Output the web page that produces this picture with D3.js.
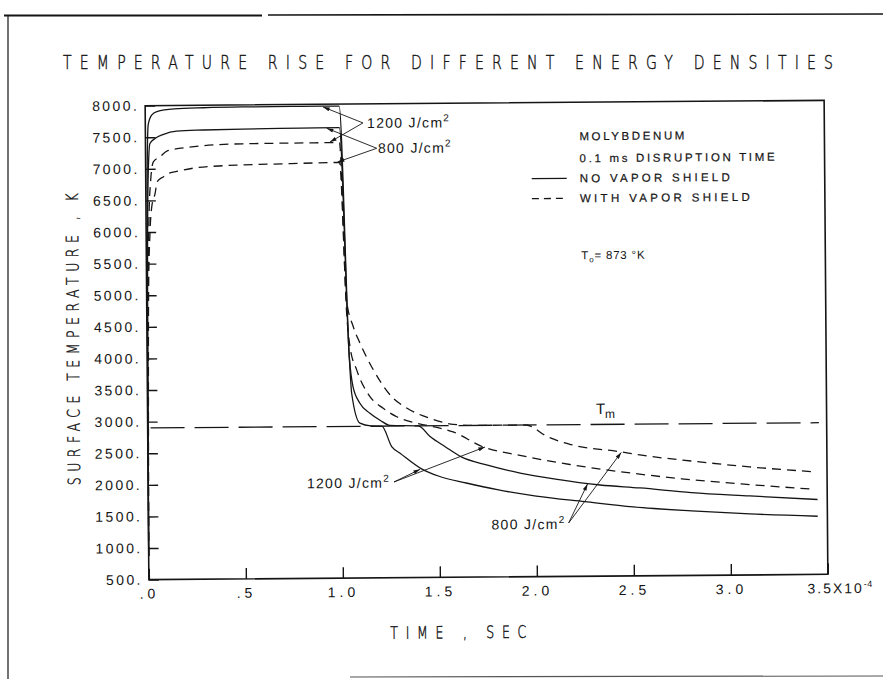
<!DOCTYPE html>
<html><head><meta charset="utf-8">
<script src="https://cdn.jsdelivr.net/npm/d3@7"></script>
<style>
html,body{margin:0;padding:0;background:#fff;}
svg{display:block;}
</style></head>
<body>
<svg id="chart" width="883" height="679"></svg>
<script>
// ---------------- DATA ----------------
const xTickValues = [0, 0.5, 1, 1.5, 2, 2.5, 3, 3.5];
const xTickLabels = [".0", ".5", "1.0", "1.5", "2.0", "2.5", "3.0", "3.5X10"];
const yTickValues = [500, 1000, 1500, 2000, 2500, 3000, 3500, 4000, 4500, 5000, 5500, 6000, 6500, 7000, 7500, 8000];
const meltTemp = 2900;   // T_m (K)

// 1200 J/cm2, no vapor shield
const t1200NoShield = [0, 0.004, 0.008, 0.015, 0.033, 0.06, 0.15, 0.3, 0.5, 0.8, 1.0, 1.042, 1.053, 1.094, 1.15, 1.207, 1.258, 1.3, 1.41, 1.5, 1.64, 1.8, 2.0, 2.25, 2.5, 2.8, 3.1, 3.45];
const T1200NoShield = [873, 5500, 7000, 7700, 7850, 7905, 7945, 7960, 7968, 7970, 7970, 4000, 3420, 2950, 2905, 2900, 2570, 2470, 2220, 2100, 1990, 1880, 1775, 1680, 1590, 1520, 1465, 1420];
// 800 J/cm2, no vapor shield
const t800NoShield = [0, 0.005, 0.012, 0.023, 0.05, 0.09, 0.16, 0.3, 0.5, 0.8, 1.0, 1.042, 1.06, 1.094, 1.146, 1.2, 1.249, 1.395, 1.455, 1.533, 1.613, 1.75, 1.918, 2.1, 2.329, 2.535, 2.8, 3.1, 3.45];
const T800NoShield = [873, 5000, 6800, 7400, 7480, 7540, 7595, 7608, 7618, 7625, 7630, 4000, 3528, 3269, 3106, 2990, 2910, 2900, 2730, 2566, 2407, 2270, 2141, 2040, 1942, 1890, 1810, 1750, 1685];
// 1200 J/cm2, with vapor shield
const t1200Shield = [0, 0.006, 0.015, 0.025, 0.04, 0.075, 0.11, 0.25, 0.5, 0.75, 1.0, 1.03, 1.046, 1.08, 1.147, 1.215, 1.284, 1.387, 1.45, 1.574, 1.727, 1.918, 2.175, 2.433, 2.75, 3.1, 3.43];
const T1200Shield = [873, 4500, 6200, 6800, 7110, 7190, 7280, 7345, 7385, 7390, 7392, 4700, 4160, 3790, 3370, 3182, 3047, 2940, 2900, 2800, 2560, 2420, 2270, 2150, 2030, 1930, 1848];
// 800 J/cm2, with vapor shield
const t800Shield = [0, 0.01, 0.02, 0.03, 0.047, 0.06, 0.09, 0.125, 0.16, 0.245, 0.4, 0.5, 0.75, 1.0, 1.03, 1.064, 1.098, 1.166, 1.259, 1.338, 1.456, 1.575, 1.7, 1.95, 2.06, 2.18, 2.433, 2.536, 2.8, 3.1, 3.43];
const T800Shield = [873, 5000, 6000, 6400, 6600, 6800, 6870, 6935, 6955, 7005, 7040, 7050, 7065, 7078, 4900, 4476, 4214, 3790, 3365, 3179, 3018, 2920, 2900, 2900, 2712, 2586, 2466, 2412, 2310, 2210, 2125];

// annotation callouts: label text, label anchor [t,T], arrow vertex [t,T], arrow tips [[t,T],...]
const calloutLabels = ["1200 J/cm", "800 J/cm", "1200 J/cm", "800 J/cm"];
const calloutLabelAt = [[1.143, 7700], [1.198, 7300], [1.247, 2005], [2.15, 1330]];
const calloutVertex = [[1.122, 7700], [1.192, 7297], [1.2675, 2015], [2.166, 1345]];
const calloutTips = [[[0.917, 7957], [0.951, 7402]], [[0.935, 7620], [0.99, 7085]], [[1.4025, 2212], [1.738, 2557]], [[2.265, 1960], [2.44, 2455]]];
const tmLabelAt = [2.311, 3066];

const legendLines = ["MOLYBDENUM", "0.1 ms DISRUPTION TIME", "NO VAPOR SHIELD", "WITH VAPOR SHIELD"];

// ---------------- DRAW ----------------
const W = 883, H = 679;
const INK = "#151515";
const svg = d3.select("#chart");
svg.append("rect").attr("width", W).attr("height", H).attr("fill", "#fff");

// page frame (scan border)
const pf = svg.append("g").attr("fill", "none").attr("stroke", INK);
pf.append("line").attr("x1", 4).attr("x2", 262).attr("y1", 15.5).attr("y2", 15.5).attr("stroke-width", 2);
pf.append("line").attr("x1", 268).attr("x2", 883).attr("y1", 15).attr("y2", 14).attr("stroke-width", 1.6);
pf.append("line").attr("x1", 8).attr("x2", 8).attr("y1", 15).attr("y2", 679).attr("stroke-width", 1.2);
pf.append("line").attr("x1", 350).attr("x2", 883).attr("y1", 677).attr("y2", 676).attr("stroke-width", 1.2).attr("stroke", "#555");

const thinFont = "'DejaVu Sans', sans-serif";
const SX = 0.74; // horizontal squeeze for the plotter lettering
function plotterText(parent, txt, tx, ty, len, size, rot) {
  return parent.append("text")
    .attr("transform", `translate(${tx},${ty}) rotate(${rot || 0}) scale(${SX},1)`)
    .attr("text-anchor", "middle")
    .attr("textLength", len / SX).attr("lengthAdjust", "spacing")
    .attr("font-family", thinFont).attr("font-weight", 200)
    .attr("font-size", size).attr("fill", INK)
    .attr("stroke", INK).attr("stroke-width", 0.45)
    .text(txt);
}
plotterText(svg, "TEMPERATURE RISE FOR DIFFERENT ENERGY DENSITIES", 448, 69, 770, 19);

const x = d3.scaleLinear().domain([0, 3.5]).range([147, 826]);
const y = d3.scaleLinear().domain([500, 8000]).range([577, 103]);

const g = svg.append("g").attr("transform", "rotate(-0.45,486.5,340)");

const defs = svg.append("defs");
defs.append("marker").attr("id", "arr")
  .attr("viewBox", "0 0 10 6").attr("refX", 10).attr("refY", 3)
  .attr("markerWidth", 9).attr("markerHeight", 4).attr("markerUnits", "userSpaceOnUse")
  .attr("orient", "auto")
  .append("path").attr("d", "M0,0 L10,3 L0,6 Z").attr("fill", INK);

// axes
const numFont = "'Liberation Sans', Arial, sans-serif";
const yAxis = d3.axisLeft(y).tickValues(yTickValues).tickFormat(d => d + ".")
  .tickSizeInner(-10).tickSizeOuter(0).tickPadding(6);
const gy = g.append("g").attr("transform", `translate(${x(0)},0)`).call(yAxis);
gy.select(".domain").remove();
gy.selectAll(".tick line").attr("stroke", INK).attr("stroke-width", 1.4);
gy.selectAll(".tick text").attr("font-family", numFont).attr("font-size", 14)
  .attr("letter-spacing", 2.4).attr("fill", INK);

const xAxis = d3.axisBottom(x).tickValues(xTickValues).tickFormat((d, i) => xTickLabels[i])
  .tickSizeInner(-11).tickSizeOuter(0).tickPadding(9);
const gx = g.append("g").attr("transform", `translate(0,${y(500)})`).call(xAxis);
gx.select(".domain").remove();
gx.selectAll(".tick line").attr("stroke", INK).attr("stroke-width", 1.4);
gx.selectAll(".tick text").attr("font-family", numFont).attr("font-size", 14)
  .attr("letter-spacing", 4).attr("fill", INK);
const lastTick = gx.selectAll(".tick text").filter((d, i) => i === xTickValues.length - 1);
lastTick.attr("text-anchor", "start").attr("x", -21).attr("letter-spacing", 2.0);
lastTick.append("tspan").attr("dy", -6).attr("font-size", 9).attr("letter-spacing", 0.5).text("-4");

// plot frame
g.append("rect")
  .attr("x", x(0)).attr("y", y(8000))
  .attr("width", x(3.5) - x(0)).attr("height", y(500) - y(8000))
  .attr("fill", "none").attr("stroke", INK).attr("stroke-width", 1.6);

// melting temperature line
g.append("line")
  .attr("x1", x(0.015)).attr("x2", x(3.46))
  .attr("y1", y(meltTemp)).attr("y2", y(meltTemp))
  .attr("stroke", INK).attr("stroke-width", 1.3).attr("stroke-dasharray", "34,10");
const tmText = g.append("text").attr("x", x(tmLabelAt[0])).attr("y", y(tmLabelAt[1]))
  .attr("font-family", numFont).attr("font-size", 15).attr("fill", INK).text("T");
tmText.append("tspan").attr("dy", 4).attr("font-size", 12).text("m");

// curves
const series = [
  { t: t1200NoShield, T: T1200NoShield, shield: false },
  { t: t800NoShield, T: T800NoShield, shield: false },
  { t: t1200Shield, T: T1200Shield, shield: true },
  { t: t800Shield, T: T800Shield, shield: true }
];
const line = d3.line().x(d => x(d[0])).y(d => y(d[1])).curve(d3.curveMonotoneX);
series.forEach(s => {
  g.append("path")
    .datum(s.t.map((t, i) => [t, s.T[i]]))
    .attr("d", line)
    .attr("fill", "none").attr("stroke", INK).attr("stroke-width", 1.3)
    .attr("stroke-dasharray", s.shield ? "9,6" : null);
});

// callouts
calloutLabels.forEach((lab, i) => {
  const v = calloutVertex[i];
  calloutTips[i].forEach(tp => {
    g.append("line")
      .attr("x1", x(v[0])).attr("y1", y(v[1]))
      .attr("x2", x(tp[0])).attr("y2", y(tp[1]))
      .attr("stroke", INK).attr("stroke-width", 0.9)
      .attr("marker-end", "url(#arr)");
  });
  const anchorEnd = i >= 2;
  const tx = g.append("text")
    .attr("x", x(calloutLabelAt[i][0])).attr("y", y(calloutLabelAt[i][1]) + 5)
    .attr("text-anchor", anchorEnd ? "end" : "start")
    .attr("font-family", numFont).attr("font-size", 14).attr("letter-spacing", 1.3)
    .attr("fill", INK).text(lab);
  tx.append("tspan").attr("dy", -6).attr("font-size", 10).text("2");
});

// legend
const legX = 581;
const legY = [137, 159, 179, 199];
const legLen = [105, 195, 150, 170];
legendLines.forEach((txt, i) => {
  g.append("text")
    .attr("x", legX).attr("y", legY[i] + 4)
    .attr("textLength", legLen[i]).attr("lengthAdjust", "spacing")
    .attr("font-family", numFont).attr("font-size", 11.5).attr("fill", INK)
    .attr("stroke", INK).attr("stroke-width", 0.2)
    .text(txt);
});
g.append("line").attr("x1", 533).attr("x2", 568).attr("y1", legY[2]).attr("y2", legY[2])
  .attr("stroke", INK).attr("stroke-width", 1.3);
g.append("line").attr("x1", 533).attr("x2", 568).attr("y1", legY[3]).attr("y2", legY[3])
  .attr("stroke", INK).attr("stroke-width", 1.3).attr("stroke-dasharray", "7,5");
const t0 = g.append("text").attr("x", legX + 1).attr("y", 260)
  .attr("font-family", numFont).attr("font-size", 11.5).attr("fill", INK).attr("letter-spacing", 0.8)
  .text("T");
t0.append("tspan").attr("dy", 3).attr("font-size", 8).text("o");
t0.append("tspan").attr("dy", -3).text("= 873 °K");

// axis titles
plotterText(g, "SURFACE TEMPERATURE , K", 79, 336, 292, 17, -90);
plotterText(g, "TIME , SEC", 456, 638, 136, 17);
</script>
</body></html>
